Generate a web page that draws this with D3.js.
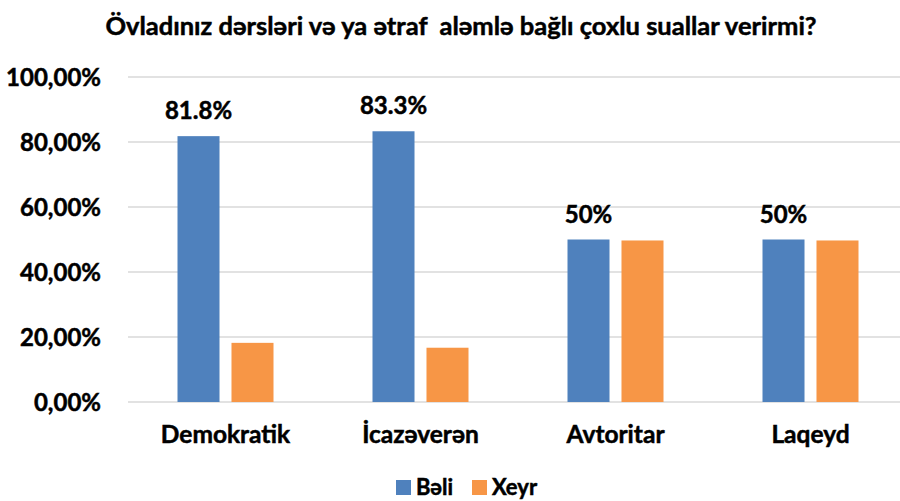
<!DOCTYPE html>
<html>
<head>
<meta charset="utf-8">
<script src="https://cdn.jsdelivr.net/npm/d3@7"></script>
<style>
  body { margin: 0; background: #fff; }
  svg text { font-family: Lato, "Open Sans", sans-serif; font-weight: bold; fill: #000; stroke: #000; stroke-width: 0.5px; }
</style>
</head>
<body>
<svg id="chart" width="900" height="501"></svg>
<script>
var categories = ["Demokratik", "İcazəverən", "Avtoritar", "Laqeyd"];
var seriesNames = ["Bəli", "Xeyr"];
var beli = [81.8, 83.3, 50, 50];
var xeyr = [18.2, 16.7, 49.7, 49.7];
var beliLabels = ["81.8%", "83.3%", "50%", "50%"];
var yTicks = [0, 20, 40, 60, 80, 100];
var yTickLabels = ["0,00%", "20,00%", "40,00%", "60,00%", "80,00%", "100,00%"];
var title = "Övladınız dərsləri və ya ətraf\u00a0 aləmlə bağlı çoxlu suallar verirmi?";

var colors = ["#4F81BD", "#F79646"];
var svg = d3.select("#chart");

var plot = { left: 128, right: 908, top: 77, bottom: 402 };

var x0 = d3.scaleBand().domain(categories).range([plot.left, plot.right]).padding(0);
var x1 = d3.scaleBand().domain(seriesNames).range([-48, 48]).paddingInner(0.222).paddingOuter(0);
var y = d3.scaleLinear().domain([0, 100]).range([plot.bottom, plot.top]);

// title
svg.append("text")
  .attr("x", 461).attr("y", 35)
  .attr("text-anchor", "middle")
  .style("font-size", "25.5px")
  .text(title);

// gridlines
svg.append("g").selectAll("line")
  .data(yTicks)
  .enter().append("line")
  .attr("x1", plot.left).attr("x2", 900)
  .attr("y1", d => y(d)).attr("y2", d => y(d))
  .attr("stroke", "#d9d9d9").attr("stroke-width", 1.5);

// y axis
var yAxis = d3.axisLeft(y).tickValues(yTicks).tickSize(0).tickPadding(0)
  .tickFormat((d, i) => yTickLabels[i]);
var gy = svg.append("g").attr("transform", "translate(101,0)").call(yAxis);
gy.select(".domain").remove();
gy.selectAll("text").style("font-size", "24px").attr("dy", "0.35em");

// x axis labels
var xAxis = d3.axisBottom(x0).tickSize(0).tickPadding(0);
var gx = svg.append("g").attr("transform", "translate(0,426)").call(xAxis);
gx.select(".domain").remove();
gx.selectAll("text").style("font-size", "24.5px").attr("dy", "0.71em");

// bars
var rows = categories.map((c, i) => ({ cat: c, vals: [beli[i], xeyr[i]] }));
var groups = svg.append("g").selectAll("g")
  .data(rows)
  .enter().append("g")
  .attr("transform", d => "translate(" + (x0(d.cat) + x0.bandwidth() / 2) + ",0)");

groups.selectAll("rect")
  .data(d => d.vals.map((v, j) => ({ name: seriesNames[j], v: v, j: j })))
  .enter().append("rect")
  .attr("x", d => x1(d.name))
  .attr("width", x1.bandwidth())
  .attr("y", d => y(d.v))
  .attr("height", d => y(0) - y(d.v))
  .attr("fill", d => colors[d.j]);

// data labels (Bəli only)
groups.append("text")
  .attr("x", x1("Bəli") + x1.bandwidth() / 2)
  .attr("y", (d, i) => y(beli[i]) - 17)
  .attr("text-anchor", "middle")
  .style("font-size", "24px")
  .text((d, i) => beliLabels[i]);

// legend
var legend = svg.append("g").attr("transform", "translate(396,480)");
var legX = [0, 76];
seriesNames.forEach(function (name, i) {
  var g = legend.append("g").attr("transform", "translate(" + legX[i] + ",0)");
  g.append("rect").attr("width", 15).attr("height", 15).attr("fill", colors[i]);
  g.append("text").attr("x", 20).attr("y", 15).style("font-size", "22px").text(name);
});
</script>
</body>
</html>
